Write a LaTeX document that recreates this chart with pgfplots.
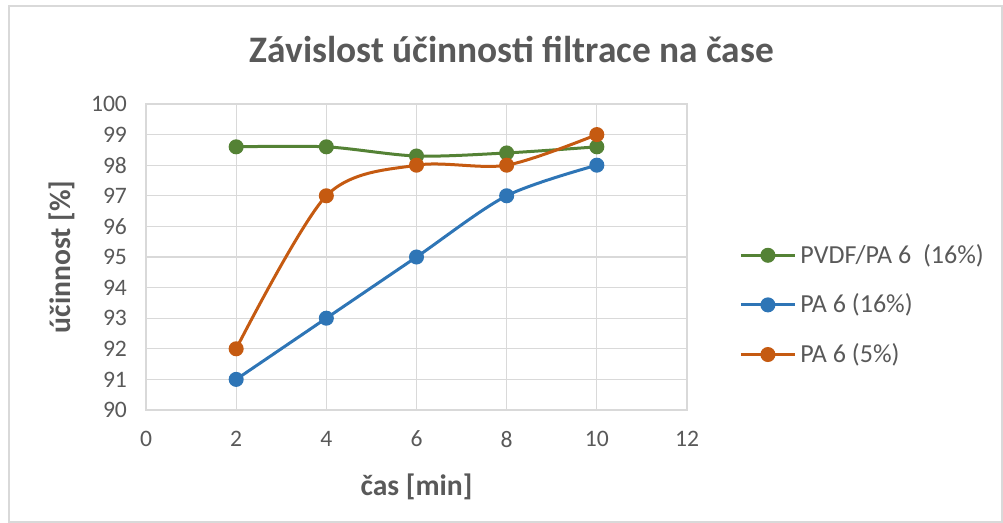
\documentclass[border=0pt]{standalone}
\usepackage{fontspec}
\setmainfont{Carlito}
\usepackage{pgfplots}
\pgfplotsset{compat=1.18}
\definecolor{txt}{HTML}{595959}
\definecolor{grd}{HTML}{D9D9D9}
\definecolor{cgreen}{HTML}{548235}
\definecolor{cblue}{HTML}{2E75B6}
\definecolor{corange}{HTML}{C55A11}
\begin{document}
\begin{tikzpicture}
\useasboundingbox (0,0) rectangle (501.5pt,261.5pt);
\draw[grd, line width=0.6pt] (4.5pt,0.5pt) rectangle (501pt,258.5pt);
\node[font=\fontsize{18.7}{21}\selectfont\bfseries, text=txt] at (256pt,236.5pt) {Závislost účinnosti filtrace na čase};
\begin{axis}[
    at={(73pt,56.5pt)}, anchor=south west,
    scale only axis,
    width=270.5pt, height=153pt,
    xmin=0, xmax=12, ymin=90, ymax=100,
    xtick={0,2,...,12}, ytick={90,91,...,100},
    grid=major,
    grid style={grd, line width=0.6pt},
    axis line style={grd, line width=0.6pt},
    tick style={draw=none},
    ticklabel style={font=\fontsize{11.8}{14}\selectfont, text=txt},
    xticklabel style={yshift=-7pt},
    yticklabel style={xshift=-6pt},
    /pgf/number format/assume math mode=true,
    xlabel={čas [min]}, ylabel={účinnost [\%]},
    label style={font=\fontsize{14.8}{17}\selectfont\bfseries, text=txt},
    xlabel style={at={(axis description cs:0.5,-0.252)}, anchor=center},
    ylabel style={at={(axis description cs:-0.155,0.5)}, anchor=center},
    legend style={at={(1.085,0.569)}, anchor=north west, draw=none, fill=none,
      font=\fontsize{13}{15}\selectfont, text=txt, row sep=9.8pt},
    legend cell align=left,
    legend image code/.code={
      \draw[#1, mark=none] (0cm,0cm) -- (0.95cm,0cm);
      \draw[#1, mark=none, fill] (0.475cm,0cm) circle (3pt);
    },
    every axis plot/.append style={line width=1.5pt, smooth, mark=*, mark size=3pt},
]
\addplot[cgreen, mark options={fill=cgreen}] coordinates {
  (2,98.6) (4,98.6) (6,98.3) (8,98.4) (10,98.6)
};
\addlegendentry{PVDF/PA 6\ \ (16\%)}
\addplot[cblue, mark options={fill=cblue}] coordinates {
  (2,91) (4,93) (6,95) (8,97) (10,98)
};
\addlegendentry{PA 6 (16\%)}
\addplot[corange, mark options={fill=corange}] coordinates {
  (2,92) (4,97) (6,98) (8,98) (10,99)
};
\addlegendentry{PA 6 (5\%)}
\end{axis}
\end{tikzpicture}
\end{document}
